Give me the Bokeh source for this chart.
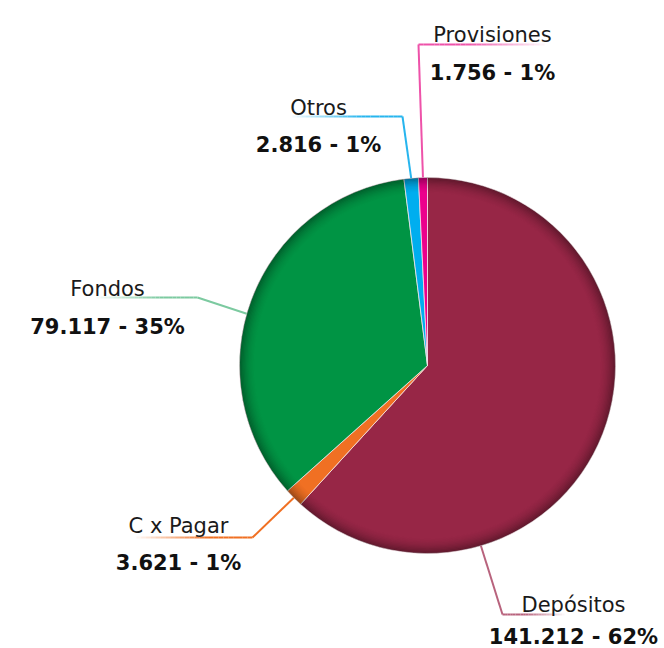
import math
from bokeh.plotting import figure
from bokeh.models import Range1d, ColumnDataSource
from bokeh.core.properties import value
from bokeh.embed import file_html
from bokeh.resources import INLINE

# ---------------- data ----------------
categories = ["Depósitos", "C x Pagar", "Fondos", "Otros", "Provisiones"]
amounts = [141212, 3621, 79117, 2816, 1756]
amount_labels = ["141.212", "3.621", "79.117", "2.816", "1.756"]
pct_labels = ["62%", "1%", "35%", "1%", "1%"]

# ---------------- style / layout ----------------
slice_colors = ["#972646", "#f07023", "#009444", "#00aeef", "#ec008c"]
leader_colors = ["#b8637d", "#f07023", "#7ccaa0", "#27b5ee", "#ee52a9"]
CX, CY, R = 427, -365, 188          # pie centre / radius (pixel-like data units, y negated)
# per label: anchor angle (deg clockwise from top, None = mid), elbow, fade end x, label cx, label base, value base
leader_layout = [
    (163.5, (502, 614), 564, 573, 604, 636),
    (None, (252, 537), 136, 178, 525, 562),
    (286.0, (197, 297), 96, 107, 288, 326),
    (None, (402, 116), 292, 318, 107, 144),
    (None, (418, 44), 544, 492, 34, 72),
]

W, H = 664, 648
p = figure(width=W, height=H, output_backend="svg", toolbar_location=None,
           x_range=Range1d(0, W), y_range=Range1d(-H, 0),
           min_border=0, outline_line_color=None)
p.axis.visible = False
p.grid.visible = False
p.background_fill_color = "white"
p.border_fill_color = "white"

total = float(sum(amounts))
fracs = [a / total for a in amounts]
starts, ends, mids = [], [], []
cum = 0.0
for f in fracs:
    a0 = math.pi / 2 - 2 * math.pi * cum
    a1 = math.pi / 2 - 2 * math.pi * (cum + f)
    starts.append(a0)
    ends.append(a1)
    mids.append(360.0 * (cum + f / 2))
    cum += f

src = ColumnDataSource(dict(start=starts, end=ends, color=slice_colors, cat=categories))
p.wedge(x=CX, y=CY, radius=R, start_angle="start", end_angle="end", direction="clock",
        fill_color="color", line_color="#f4e4e8", line_width=0.8, source=src)

# rim darkening (inner shadow)
n_rings = 12
ring_w = 1.3
for i in range(n_rings):
    r_out = R - i * ring_w
    r_in = r_out - ring_w
    a = 0.36 * (1 - i / n_rings) ** 1.8
    p.annulus(x=CX, y=CY, inner_radius=r_in, outer_radius=r_out,
              fill_color="black", fill_alpha=a, line_color=None)

# leader lines
for i, (ang, elbow, endx, lcx, lbase, vbase) in enumerate(leader_layout):
    th = math.radians(mids[i] if ang is None else ang)
    ex = CX + R * math.sin(th)
    ey = CY + R * math.cos(th)
    col = leader_colors[i]
    p.line([ex, elbow[0]], [ey, -elbow[1]], line_color=col, line_width=2)
    n = 24
    xs0, xs1, al = [], [], []
    for k in range(n):
        t0 = k / n
        t1 = (k + 1) / n
        xs0.append(elbow[0] + (endx - elbow[0]) * t0)
        xs1.append(elbow[0] + (endx - elbow[0]) * t1)
        al.append(1.0 if t0 < 0.35 else max(0.0, 1 - (t0 - 0.35) / 0.65))
    seg = ColumnDataSource(dict(x0=xs0, x1=xs1, y0=[-elbow[1]] * n, y1=[-elbow[1]] * n, a=al))
    p.segment(x0="x0", y0="y0", x1="x1", y1="y1", line_color=col, line_alpha="a",
              line_width=2, source=seg)

# labels
lab_src = ColumnDataSource(dict(
    x=[l[3] for l in leader_layout],
    y=[-l[4] for l in leader_layout],
    t=categories))
val_src = ColumnDataSource(dict(
    x=[l[3] for l in leader_layout],
    y=[-l[5] for l in leader_layout],
    t=[f"{a} - {pc}" for a, pc in zip(amount_labels, pct_labels)]))
p.text(x="x", y="y", text="t", source=lab_src, text_font=value("DejaVu Sans"),
       text_font_size="21px", text_color="#1a1a1a", text_align="center",
       text_baseline="alphabetic")
p.text(x="x", y="y", text="t", source=val_src, text_font=value("DejaVu Sans"),
       text_font_style="bold", text_font_size="21px", text_color="#111111",
       text_align="center", text_baseline="alphabetic")

open("out.html", "w").write(file_html(p, INLINE))
